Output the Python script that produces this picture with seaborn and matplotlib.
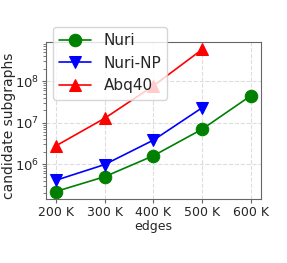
import matplotlib
matplotlib.use('Agg')
import matplotlib.pyplot as plt
import seaborn as sns
import pandas as pd

edges = ['200 K', '300 K', '400 K', '500 K', '600 K']
nuri = [2.2e5, 5.0e5, 1.6e6, 7.0e6, 4.5e7]
nuri_np = [4.1e5, 9.8e5, 3.8e6, 2.3e7]
abq40 = [2.75e6, 1.27e7, 7.7e7, 5.8e8]

rows = []
for name, vals in [('Nuri', nuri), ('Nuri-NP', nuri_np), ('Abq40', abq40)]:
    for i, v in enumerate(vals):
        rows.append({'x': i, 'edges': edges[i], 'value': v, 'method': name})
df = pd.DataFrame(rows)

sns.set_style('white')
plt.rcParams['font.family'] = ['DejaVu Sans']

fig = plt.figure(figsize=(2.87, 2.63), dpi=100)
ax = fig.add_axes([0.160, 0.243, 0.749, 0.597])

styles = {'Nuri': ('green', 'o'), 'Nuri-NP': ('blue', 'v'), 'Abq40': ('red', '^')}
for name in ['Nuri', 'Nuri-NP', 'Abq40']:
    c, m = styles[name]
    sub = df[df['method'] == name]
    sns.lineplot(data=sub, x='x', y='value', ax=ax, color=c, marker=m,
                 markersize=9, markeredgecolor=c, linewidth=1.2, label=name)

ax.set_yscale('log')
ax.set_ylim(1.45e5, 8.7e8)
ax.set_xlim(-0.2, 4.2)
ax.set_xticks(range(len(edges)))
ax.set_xticklabels(edges)
ax.set_yticks([1e6, 1e7, 1e8])
ax.tick_params(axis='x', labelsize=9, bottom=True, length=3, color='#666666', pad=2)
ax.tick_params(axis='y', labelsize=9.5, left=True, length=3, color='#666666', pad=2)
ax.tick_params(axis='y', which='minor', left=True, length=2, color='#666666')
ax.set_xlabel('edges', fontsize=9, labelpad=1)
ax.set_ylabel('candidate subgraphs', fontsize=10)
ax.yaxis.set_label_coords(-0.138, 0.465)
ax.grid(True, linestyle='--', color='#dddddd', linewidth=0.8)
for s in ax.spines.values():
    s.set_color('#666666')

ax.legend(loc='upper left', bbox_to_anchor=(53 / 287, 1 - 27 / 263),
          bbox_transform=fig.transFigure, fontsize=11, handlelength=2.1,
          borderaxespad=0, framealpha=0.8)

fig.savefig('out.png', dpi=100)
